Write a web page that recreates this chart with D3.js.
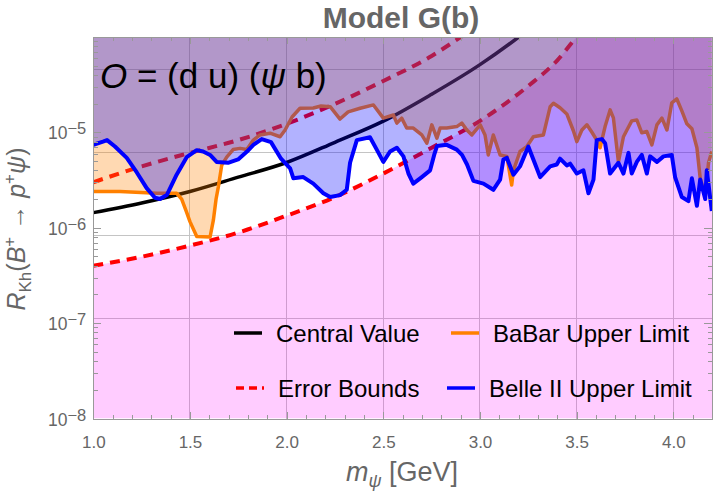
<!DOCTYPE html>
<html lang="en">
<head>
<meta charset="utf-8">
<title>Model G(b)</title>
<script src="https://cdn.jsdelivr.net/npm/d3@7"></script>
<style>
body { margin:0; background:#fff; }
svg { display:block; font-family:'Liberation Sans', Arial, sans-serif; }
.axis path, .axis line { stroke:#999; stroke-width:1; fill:none; shape-rendering:crispEdges; }
.axis text { fill:#666; font-size:17px; font-family:'Liberation Sans', Arial, sans-serif; }
.grid line { stroke:#c4c4c4; stroke-width:1; shape-rendering:crispEdges; }
</style>
</head>
<body>
<svg width="720" height="496"></svg>
<script>

// theory curves: mass [GeV], R_Kh
var central = [[1.0,1.44e-6],[1.25,1.82e-6],[1.5,2.40e-6],[1.75,3.39e-6],[2.0,4.83e-6],[2.25,7.87e-6],
  [2.5,1.31e-5],[2.75,2.51e-5],[3.0,5.13e-5],[3.2,1.0e-4],[3.3,1.45e-4]];
var upperBound = [[1.0,3.0e-6],[1.25,4.4e-6],[1.5,6.1e-6],[1.75,8.3e-6],[2.0,1.23e-5],[2.25,1.99e-5],
  [2.5,3.46e-5],[2.75,6.32e-5],[2.9,1.0e-4],[3.0,1.37e-4]];
var lowerBound = [[1.0,4.0e-7],[1.25,4.97e-7],[1.5,6.5e-7],[1.75,8.9e-7],[2.0,1.34e-6],[2.25,2.1e-6],
  [2.5,3.7e-6],[2.75,6.9e-6],[3.0,1.32e-5],[3.25,3.07e-5],[3.4,5.7e-5],[3.5,1.0e-4],[3.6,1.66e-4]];

// experimental upper limits
var babar = [[1.000,2.4e-6],[1.138,2.4e-6],[1.328,2.3e-6],[1.431,2.3e-6],[1.457,2.0e-6],[1.480,1.5e-6],
  [1.500,1.16e-6],[1.535,8.1e-7],[1.604,8.0e-7],[1.621,1.2e-6],[1.635,2.0e-6],[1.647,2.7e-6],[1.664,4.5e-6],
  [1.690,5.5e-6],[1.723,6.6e-6],[1.759,6.8e-6],[1.794,6.6e-6],[1.828,8.3e-6],[1.862,9.4e-6],[1.914,9.8e-6],
  [1.966,9.0e-6],[1.992,1.06e-5],[2.028,1.45e-5],[2.069,1.79e-5],[2.138,1.8e-5],[2.178,1.89e-5],[2.225,1.86e-5],
  [2.276,1.38e-5],[2.318,1.64e-5],[2.380,1.79e-5],[2.449,1.94e-5],[2.500,1.41e-5],[2.552,1.52e-5],[2.570,1.25e-5],
  [2.595,1.41e-5],[2.621,1.11e-5],[2.655,1.11e-5],[2.699,9.4e-6],[2.725,7.7e-6],[2.751,1.2e-5],[2.777,8.7e-6],
  [2.794,1.11e-5],[2.828,1.11e-5],[2.880,1.15e-5],[2.906,1.25e-5],[2.932,1.06e-5],[2.958,9.4e-6],[3.001,1.2e-5],
  [3.026,9.4e-6],[3.043,5.8e-6],[3.069,9.4e-6],[3.104,5.8e-6],[3.139,5.6e-6],[3.164,2.8e-6],[3.173,4.0e-6],
  [3.207,6.3e-6],[3.242,7.1e-6],[3.276,9.0e-6],[3.328,9.4e-6],[3.363,1.86e-5],[3.380,2.02e-5],[3.414,1.81e-5],
  [3.449,1.56e-5],[3.483,1.04e-5],[3.501,8.0e-6],[3.527,1.06e-5],[3.553,1.2e-5],[3.578,1.01e-5],[3.604,8.3e-6],
  [3.621,6.9e-6],[3.647,1.15e-5],[3.673,1.72e-5],[3.690,1.42e-5],[3.716,4.9e-6],[3.742,9.0e-6],[3.760,1.06e-5],
  [3.785,1.32e-5],[3.811,1.35e-5],[3.837,9.9e-6],[3.863,1.02e-5],[3.889,7.4e-6],[3.915,1.2e-5],[3.941,1.41e-5],
  [3.967,1.06e-5],[3.992,2.04e-5],[4.018,2.24e-5],[4.044,1.68e-5],[4.070,1.23e-5],[4.096,1.09e-5],[4.122,6.9e-6],
  [4.139,3.3e-6],[4.165,2.1e-6],[4.182,4.8e-6],[4.199,6.3e-6]];

var belle = [[1.000,7.4e-6],[1.050,8.0e-6],[1.071,8.3e-6],[1.112,7.1e-6],[1.173,5.4e-6],[1.225,3.8e-6],
  [1.276,2.6e-6],[1.319,2.06e-6],[1.345,2.0e-6],[1.380,2.2e-6],[1.431,3.6e-6],[1.483,5.5e-6],[1.535,6.5e-6],
  [1.568,6.3e-6],[1.604,5.8e-6],[1.638,4.9e-6],[1.697,4.8e-6],[1.749,5.2e-6],[1.795,6.3e-6],[1.828,7.4e-6],
  [1.871,8.5e-6],[1.919,7.9e-6],[1.971,5.3e-6],[2.018,4.2e-6],[2.035,3.3e-6],[2.086,3.4e-6],[2.138,2.9e-6],
  [2.190,2.3e-6],[2.225,2.1e-6],[2.276,2.2e-6],[2.311,2.5e-6],[2.328,4.8e-6],[2.363,8.3e-6],[2.431,8.9e-6],
  [2.466,6.6e-6],[2.500,4.9e-6],[2.535,6.3e-6],[2.570,6.9e-6],[2.604,5.6e-6],[2.630,3.7e-6],[2.655,2.9e-6],
  [2.699,3.4e-6],[2.742,4.0e-6],[2.763,5.8e-6],[2.778,7.2e-6],[2.828,7.4e-6],[2.880,6.6e-6],[2.907,5.8e-6],
  [2.933,4.6e-6],[2.966,3.1e-6],[3.018,2.9e-6],[3.069,2.5e-6],[3.104,3.2e-6],[3.121,5.2e-6],[3.139,5.4e-6],
  [3.173,3.6e-6],[3.207,4.4e-6],[3.250,7.1e-6],[3.276,5.2e-6],[3.311,3.4e-6],[3.363,4.4e-6],[3.397,4.6e-6],
  [3.414,5.3e-6],[3.449,4.5e-6],[3.466,4.7e-6],[3.501,3.7e-6],[3.535,4.0e-6],[3.561,2.3e-6],[3.587,3.2e-6],
  [3.604,8.3e-6],[3.630,8.5e-6],[3.647,7.7e-6],[3.673,3.7e-6],[3.716,4.8e-6],[3.742,3.7e-6],[3.768,6.1e-6],
  [3.785,3.7e-6],[3.811,4.9e-6],[3.837,5.8e-6],[3.863,3.7e-6],[3.880,5.6e-6],[3.915,4.9e-6],[3.949,5.6e-6],
  [3.992,5.8e-6],[4.009,3.4e-6],[4.044,2.1e-6],[4.078,1.9e-6],[4.096,3.3e-6],[4.122,1.7e-6],[4.139,3.2e-6],
  [4.165,2.0e-6],[4.173,4.0e-6],[4.199,1.5e-6]];

// axes
var xMajor = [1.0, 1.5, 2.0, 2.5, 3.0, 3.5, 4.0];
var xTickLabels = ["1.0", "1.5", "2.0", "2.5", "3.0", "3.5", "4.0"];
var yMajor = [1e-8, 1e-7, 1e-6, 1e-5, 1e-4];
var yTickLabels = [["10", "\u22128"], ["10", "\u22127"], ["10", "\u22126"], ["10", "\u22125"]];
var gridX = [1.5, 2.0, 2.5, 3.0, 3.5, 4.0];
var gridY = [4.54e-5, 6.14e-6, 8.32e-7, 1.13e-7];

var svg = d3.select("svg"),
    margin = {top: 37, right: 8, bottom: 77.5, left: 93.3},
    width = 720 - margin.left - margin.right,
    height = 496 - margin.top - margin.bottom;

var x = d3.scaleLinear().domain([1, 4.2]).range([0, width]);
var y = d3.scaleLog().domain([1e-8, 1e-4]).range([height, 0]);

var g = svg.append("g").attr("transform", "translate(" + margin.left + "," + margin.top + ")");

svg.append("defs").append("clipPath").attr("id", "plot")
  .append("rect").attr("width", width).attr("height", height);

// grid
var grid = g.append("g").attr("class", "grid");
grid.selectAll(".gx").data(gridX).enter().append("line")
  .attr("x1", d => x(d)).attr("x2", d => x(d)).attr("y1", 0).attr("y2", height);
grid.selectAll(".gy").data(gridY).enter().append("line")
  .attr("y1", d => y(d)).attr("y2", d => y(d)).attr("x1", 0).attr("x2", width);

var plot = g.append("g").attr("clip-path", "url(#plot)");

var smooth = d3.line().x(d => x(d[0])).y(d => y(d[1])).curve(d3.curveMonotoneX);
var jagged = d3.line().x(d => x(d[0])).y(d => y(d[1]));

// pink region below lower error bound
plot.append("path")
  .attr("d", d3.area().x(d => x(d[0])).y0(height).y1(d => y(d[1])).curve(d3.curveMonotoneX)(lowerBound))
  .attr("fill", "rgba(255,0,255,0.2)");
plot.append("rect")
  .attr("x", x(lowerBound[lowerBound.length - 1][0])).attr("y", 0)
  .attr("width", width - x(lowerBound[lowerBound.length - 1][0])).attr("height", height)
  .attr("fill", "rgba(255,0,255,0.2)");

plot.append("path").attr("d", smooth(central))
  .attr("fill", "none").attr("stroke", "#000").attr("stroke-width", 3.5);
[upperBound, lowerBound].forEach(function(c) {
  plot.append("path").attr("d", smooth(c))
    .attr("fill", "none").attr("stroke", "#f00").attr("stroke-width", 4)
    .attr("stroke-dasharray", "10,7");
});

// BaBar excluded region
plot.append("path")
  .attr("d", d3.area().x(d => x(d[0])).y0(d => y(d[1])).y1(0)(babar))
  .attr("fill", "rgba(255,128,0,0.3)");
plot.append("path").attr("d", jagged(babar))
  .attr("fill", "none").attr("stroke", "#ff8000").attr("stroke-width", 3.5).attr("stroke-linejoin", "round");

// Belle II excluded region
plot.append("path")
  .attr("d", d3.area().x(d => x(d[0])).y0(d => y(d[1])).y1(0)(belle))
  .attr("fill", "rgba(0,0,255,0.3)");
plot.append("path").attr("d", jagged(belle))
  .attr("fill", "none").attr("stroke", "#00f").attr("stroke-width", 4).attr("stroke-linejoin", "round");

// frame and ticks
var yMinor = [];
[1e-8, 1e-7, 1e-6, 1e-5].forEach(function(b) { for (var k = 2; k < 10; k++) yMinor.push(b * k); });
var xMinor = d3.range(10, 43).map(d => d / 10).filter(d => xMajor.indexOf(d) < 0);

g.append("g").attr("class", "axis").attr("transform", "translate(0," + height + ")")
  .call(d3.axisBottom(x).tickValues(xMajor).tickSize(-7).tickPadding(17)
    .tickFormat((d, i) => xTickLabels[i]));
g.append("g").attr("class", "axis").attr("transform", "translate(0," + height + ")")
  .call(d3.axisBottom(x).tickValues(xMinor).tickSize(-4).tickFormat(""));
g.append("g").attr("class", "axis")
  .call(d3.axisTop(x).tickValues(xMajor).tickSize(-7).tickFormat(""));
g.append("g").attr("class", "axis")
  .call(d3.axisTop(x).tickValues(xMinor).tickSize(-4).tickFormat(""));
g.append("g").attr("class", "axis")
  .call(d3.axisLeft(y).tickValues(yMajor).tickSize(-8).tickFormat(""));
g.append("g").attr("class", "axis")
  .call(d3.axisLeft(y).tickValues(yMinor).tickSize(-4.5).tickFormat(""));
g.append("g").attr("class", "axis").attr("transform", "translate(" + width + ",0)")
  .call(d3.axisRight(y).tickValues(yMajor).tickSize(-8).tickFormat(""));
g.append("g").attr("class", "axis").attr("transform", "translate(" + width + ",0)")
  .call(d3.axisRight(y).tickValues(yMinor).tickSize(-4.5).tickFormat(""));

var yl = g.append("g").selectAll("text").data(yTickLabels).enter().append("text")
  .attr("x", -7).attr("y", (d, i) => y(yMajor[i]) + 7)
  .attr("text-anchor", "end").attr("fill", "#666").attr("font-size", 17.5);
yl.append("tspan").text(d => d[0]);
yl.append("tspan").attr("dy", -5).attr("font-size", 16.5).text(d => d[1]);

// titles
svg.append("text").attr("x", 401).attr("y", 28).attr("text-anchor", "middle")
  .attr("font-weight", "bold").attr("font-size", 30).attr("fill", "#666").text("Model G(b)");

var op = g.append("text").attr("x", 100 - margin.left).attr("y", 88 - margin.top)
  .attr("font-size", 35).attr("fill", "#000");
op.append("tspan").attr("font-style", "italic").text("O");
op.append("tspan").text(" = (d u) (");
op.append("tspan").attr("font-style", "italic").text("\u03c8");
op.append("tspan").text(" b)");

var xl = svg.append("text").attr("x", 402).attr("y", 481).attr("text-anchor", "middle")
  .attr("font-size", 27).attr("fill", "#666");
xl.append("tspan").attr("font-style", "italic").text("m");
xl.append("tspan").attr("font-style", "italic").attr("font-size", 18).attr("dy", 6).text("\u03c8");
xl.append("tspan").attr("dy", -6).text(" [GeV]");

var ylab = svg.append("text").attr("transform", "translate(25,229) rotate(-90)")
  .attr("text-anchor", "middle").attr("font-size", 25).attr("fill", "#666");
ylab.append("tspan").attr("font-style", "italic").text("R");
ylab.append("tspan").attr("font-size", 17).attr("dy", 6).text("Kh");
ylab.append("tspan").attr("dy", -6).text("(");
ylab.append("tspan").attr("font-style", "italic").text("B");
ylab.append("tspan").attr("font-size", 17).attr("dy", -10).text("+");
ylab.append("tspan").attr("dy", 10).text(" \u2192 ");
ylab.append("tspan").attr("font-style", "italic").text("p");
ylab.append("tspan").attr("font-size", 17).attr("dy", -10).text("+");
ylab.append("tspan").attr("dy", 10).attr("font-style", "italic").text("\u03c8");
ylab.append("tspan").text(")");

// legend
var legendItems = [
  {label: "Central Value", color: "#000", dash: null, x: 234, y: 333},
  {label: "BaBar Upper Limit", color: "#ff8000", dash: null, x: 451, y: 333},
  {label: "Error Bounds", color: "#f00", dash: "8,5", x: 236, y: 388},
  {label: "Belle II Upper Limit", color: "#00f", dash: null, x: 447, y: 388}
];
var lg = svg.append("g").selectAll("g").data(legendItems).enter().append("g");
lg.append("line").attr("x1", d => d.x).attr("x2", d => d.x + 28)
  .attr("y1", d => d.y).attr("y2", d => d.y)
  .attr("stroke", d => d.color).attr("stroke-width", 3.5)
  .attr("stroke-dasharray", d => d.dash);
lg.append("text").attr("x", d => d.x + 42).attr("y", d => d.y + 8.5)
  .attr("font-size", 24).attr("fill", "#000").text(d => d.label);

</script>
</body>
</html>
